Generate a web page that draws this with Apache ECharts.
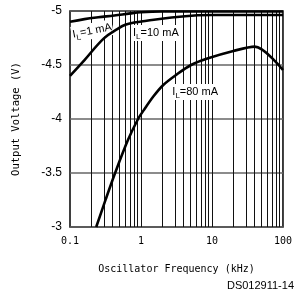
<!DOCTYPE html>
<html><head><meta charset="utf-8">
<script src="https://cdn.jsdelivr.net/npm/echarts@6/dist/echarts.min.js"></script>
<style>html,body{margin:0;padding:0;background:#fff}#c{width:295px;height:294px}</style>
</head><body><div id="c"></div>
<script>
var freq1 = [0.1, 0.16, 0.25, 0.42, 0.71, 1, 2, 5, 10, 100];
var volt1 = [-4.90, -4.925, -4.942, -4.958, -4.978, -4.988, -4.995, -4.996, -4.996, -4.996];
var freq10 = [0.1, 0.16, 0.3, 0.47, 0.6, 0.8, 1.2, 2.7, 6.3, 10, 100];
var volt10 = [-4.40, -4.546, -4.747, -4.835, -4.872, -4.893, -4.91, -4.94, -4.96, -4.963, -4.963];
var freq80 = [0.234, 0.32, 0.432, 0.65, 0.909, 1.09, 1.5, 2.06, 3.15, 5.07, 8.6, 20, 40, 100];
var volt80 = [-3.0, -3.26, -3.5, -3.8, -4.0, -4.08, -4.21, -4.315, -4.41, -4.5, -4.56, -4.63, -4.67, -4.454];
var xTickLabels = ['0.1', '1', '10', '100'];
var xTickValues = [0.1, 1, 10, 100];
var gridFreqs = [0.2,0.3,0.4,0.5,0.6,0.7,0.8,0.9,1,2,3,4,5,6,7,8,9,10,20,30,40,50,60,70,80,90];
var labelTexts = ['{i|I}{s|L}{t|=1 mA}', '{i|I}{s|L}{t|=10 mA}', '{i|I}{s|L}{t|=80 mA}'];
var labelCoords = [[0.205, -4.815], [1.62, -4.796], [5.8, -4.25]];

function pairs(xs, ys) { return xs.map(function (x, i) { return [x, ys[i]]; }); }
var rich = {
  i: {fontFamily: 'Liberation Sans', fontSize: 11, color: '#000', lineHeight: 16, verticalAlign: 'middle'},
  s: {fontFamily: 'Liberation Sans', fontSize: 8, color: '#000', lineHeight: 16, verticalAlign: 'bottom', padding: [6, 0, 0, 0]},
  t: {fontFamily: 'Liberation Sans', fontSize: 11, color: '#000', lineHeight: 16, verticalAlign: 'middle'}
};
function lbl(k, rot) {
  return {name: 'l' + k, coord: labelCoords[k], symbolSize: 0,
    label: {show: true, position: 'inside', formatter: labelTexts[k], rich: rich, rotate: rot,
      backgroundColor: '#fff', padding: [0, 1, 0, 1]}};
}
var lineStyle = {color: '#000', width: 2.6};
var chart = echarts.init(document.getElementById('c'), null, {renderer: 'canvas'});
chart.setOption({
  animation: false,
  backgroundColor: '#fff',
  grid: {left: 70, right: 8, top: 11, bottom: 67, show: true, borderColor: '#000', borderWidth: 1.5},
  xAxis: {
    type: 'log', logBase: 10, min: 0.1, max: 100,
    axisLine: {show: false, onZero: false}, axisTick: {show: false}, splitLine: {show: false},
    axisLabel: {margin: 9, fontFamily: 'DejaVu Sans Mono', fontSize: 10, color: '#000',
      formatter: function (v) {
        var best = 0;
        for (var i = 0; i < xTickValues.length; i++) {
          if (Math.abs(Math.log10(v) - Math.log10(xTickValues[i])) < Math.abs(Math.log10(v) - Math.log10(xTickValues[best]))) best = i;
        }
        return xTickLabels[best];
      }},
    name: 'Oscillator Frequency (kHz)', nameLocation: 'middle', nameGap: 37,
    nameTextStyle: {fontFamily: 'DejaVu Sans Mono', fontSize: 10, color: '#000'}
  },
  yAxis: {
    type: 'value', inverse: true, min: -5, max: -3, interval: 0.5,
    axisLine: {show: false}, axisTick: {show: false},
    splitLine: {show: true, lineStyle: {color: '#666', width: 1.5}},
    axisLabel: {margin: 8, fontFamily: 'Liberation Sans', fontSize: 12, color: '#000'},
    name: 'Output Voltage (V)', nameLocation: 'middle', nameGap: 48, nameRotate: 90,
    nameTextStyle: {fontFamily: 'DejaVu Sans Mono', fontSize: 10.5, color: '#000'}
  },
  series: [
    {type: 'line', data: [], silent: true, z: 1,
      markLine: {silent: true, symbol: ['none', 'none'], animation: false, z: 1,
        label: {show: false}, lineStyle: {color: '#111', width: 1, type: 'solid'},
        data: gridFreqs.map(function (f) { return {xAxis: f}; })}},
    {type: 'line', data: pairs(freq1, volt1), showSymbol: false, smooth: 0.4, lineStyle: lineStyle, z: 5,
      markPoint: {data: [lbl(0, 11)], z: 3}},
    {type: 'line', data: pairs(freq10, volt10), showSymbol: false, smooth: 0.4, lineStyle: lineStyle, z: 5,
      markPoint: {data: [lbl(1, 0)], z: 3}},
    {type: 'line', data: pairs(freq80, volt80), showSymbol: false, smooth: 0.3, lineStyle: lineStyle, z: 5,
      markPoint: {data: [lbl(2, 0)], z: 3}}
  ],
  graphic: [{type: 'text', right: 1, top: 280,
    style: {text: 'DS012911-14', fontFamily: 'Liberation Sans', fontSize: 11, fill: '#000'}}]
});
</script></body></html>
